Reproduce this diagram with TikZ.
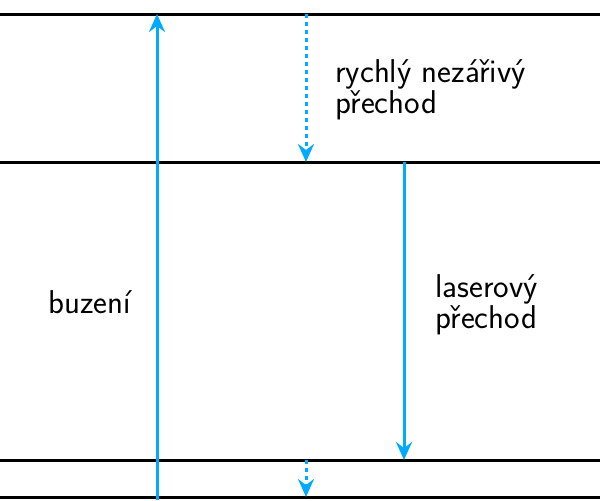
\documentclass[tikz,border=0pt]{standalone}
\usepackage{fontspec}
\usetikzlibrary{arrows.meta}
\definecolor{beam}{RGB}{0,170,255}
\tikzset{
  level/.style={line width=1.5pt, black},
  trans/.style={line width=1.5pt, beam, -{Stealth[length=9pt, width=8pt, inset=3pt]}},
  fast/.style={trans, dash pattern=on 2pt off 2pt},
  lbl/.style={font=\sffamily\fontsize{16.5}{15.5}\selectfont, inner sep=0pt, align=left, anchor=base west}
}
\begin{document}
\begin{tikzpicture}[x=0.5pt, y=-0.5pt]
  \useasboundingbox (0,0) rectangle (600,500);
  % energy levels
  \coordinate (l0w) at (0,14);   \coordinate (l0e) at (600,14);
  \coordinate (l1w) at (0,162);  \coordinate (l1e) at (600,162);
  \coordinate (l2w) at (0,460);  \coordinate (l2e) at (600,460);
  \coordinate (l3w) at (0,497);  \coordinate (l3e) at (600,497);
  \draw[level] (l0w) -- (l0e);
  \draw[level] (l1w) -- (l1e);
  \draw[level] (l2w) -- (l2e);
  \draw[level] (l3w) -- (l3e);
  % transitions
  \coordinate (pumpA) at (157,500); \coordinate (pumpB) at (157,14);
  \draw[trans] (pumpA) -- (pumpB);
  \coordinate (fastA) at (306,14);  \coordinate (fastB) at (306,162);
  \draw[fast] (fastA) -- (fastB);
  \coordinate (laserA) at (404,162); \coordinate (laserB) at (404,460);
  \draw[trans] (laserA) -- (laserB);
  \coordinate (lowA) at (306,460);  \coordinate (lowB) at (306,497);
  \draw[fast] (lowA) -- (lowB);
  % labels
  \node[lbl] (tfast) at (335,113) {rychlý nezářivý\\přechod};
  \node[lbl] (tpump) at (48,313) {buzení};
  \node[lbl] (tlaser) at (435,328) {laserový\\přechod};
\end{tikzpicture}
\end{document}
